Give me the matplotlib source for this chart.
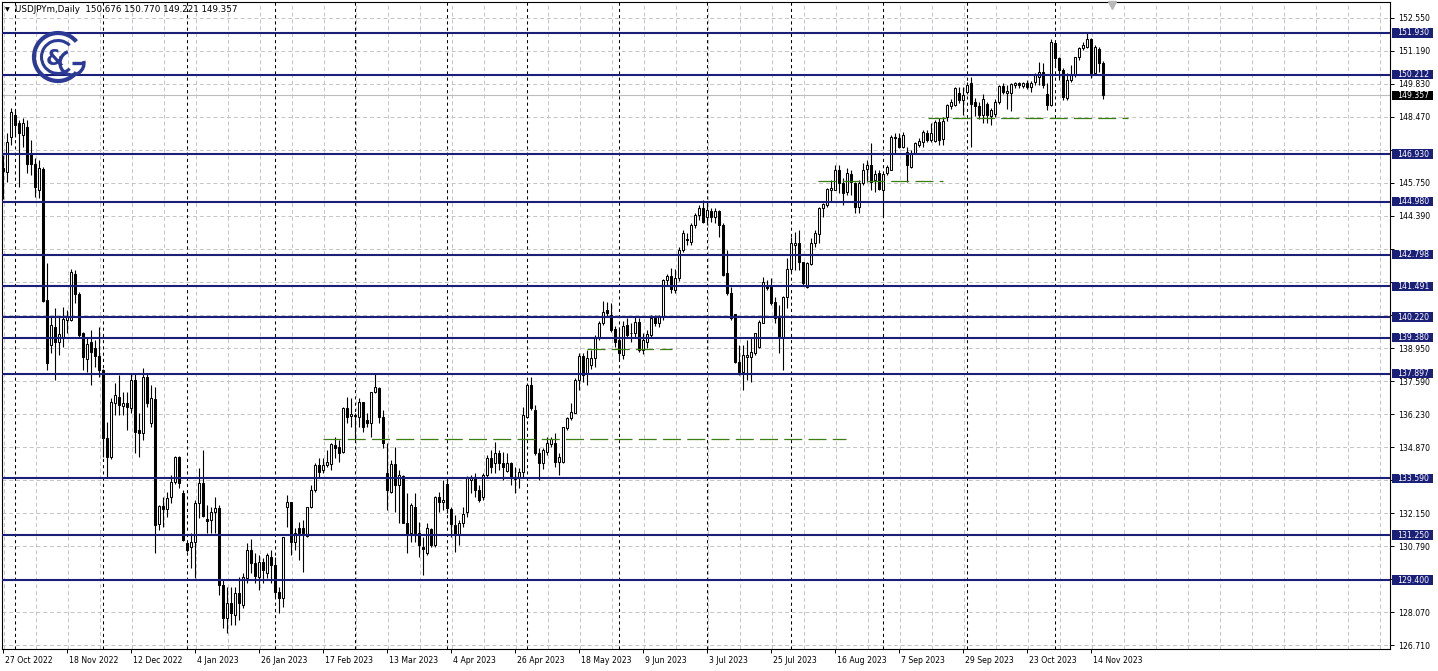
import numpy as np
import pandas as pd
import matplotlib
matplotlib.use("Agg")
import matplotlib.pyplot as plt
from matplotlib.patches import Arc, Rectangle
from matplotlib.transforms import ScaledTranslation, blended_transform_factory

# ---------------- data ----------------
symbol = "USDJPYm,Daily"
first_day = "2022-10-27"
last_day = "2023-11-17"
closed_days = ["2022-12-26"]

opens = [
    146.35, 146.21, 147.65, 148.55, 148.20, 147.72, 148.07, 146.97, 146.53, 145.46,
    146.32, 140.93, 139.07, 139.83, 139.21, 139.42, 140.10, 140.11, 142.00, 141.18,
    139.56, 138.49, 139.21, 138.94, 138.62, 138.05, 135.23, 134.48, 136.68, 136.95,
    136.58, 136.67, 136.47, 137.64, 135.58, 135.44, 137.77, 135.85, 136.84, 131.71,
    132.45, 132.31, 132.83, 133.45, 134.45, 132.99, 130.91, 130.77, 130.98, 132.56,
    133.38, 131.90, 131.87, 132.21, 132.35, 129.20, 127.82, 128.44, 127.96, 128.85,
    128.37, 129.47, 130.64, 130.12, 129.54, 130.16, 129.68, 130.36, 130.02, 128.92,
    128.65, 132.42, 132.60, 130.98, 131.53, 131.53, 131.21, 132.42, 133.11, 134.14,
    133.93, 134.14, 134.18, 134.96, 134.89, 134.69, 136.47, 136.15, 136.20, 136.13,
    136.74, 135.99, 135.85, 137.13, 137.29, 136.10, 133.79, 133.04, 134.18, 133.31,
    133.68, 131.76, 131.32, 132.42, 131.32, 130.77, 130.50, 131.49, 130.84, 132.83,
    132.60, 133.35, 132.31, 131.67, 131.25, 131.73, 132.20, 133.52, 133.65, 133.10,
    132.83, 133.72, 134.41, 134.20, 134.64, 134.23, 133.90, 134.20, 133.55, 133.59,
    133.86, 136.13, 137.43, 136.40, 134.62, 134.20, 134.69, 135.00, 135.03, 134.27,
    134.27, 135.65, 136.06, 136.26, 137.63, 138.64, 137.91, 138.25, 138.53, 139.35,
    139.97, 140.52, 140.31, 139.72, 139.28, 138.66, 139.90, 139.56, 139.56, 140.03,
    138.87, 139.21, 139.49, 140.17, 139.97, 140.24, 141.75, 141.92, 141.34, 141.82,
    142.99, 143.46, 143.33, 144.02, 144.43, 144.70, 144.36, 144.61, 144.36, 144.61,
    144.02, 142.03, 141.20, 140.35, 138.39, 137.98, 138.60, 138.60, 138.73, 139.01,
    139.99, 141.55, 141.55, 140.86, 140.24, 139.42, 141.07, 142.20, 143.20, 143.26,
    142.51, 141.48, 142.41, 143.29, 143.65, 144.70, 144.84, 145.46, 145.46, 146.28,
    145.76, 145.39, 146.12, 145.76, 144.74, 145.73, 146.31, 146.49, 145.85, 146.14,
    145.46, 146.14, 146.28, 147.65, 147.58, 147.21, 147.04, 146.42, 146.99, 147.31,
    147.45, 147.79, 147.52, 147.49, 148.27, 147.55, 148.48, 148.90, 148.96, 149.47,
    149.16, 149.51, 149.85, 149.10, 148.90, 148.55, 149.00, 148.50, 148.60, 149.10,
    149.74, 149.45, 149.44, 149.78, 149.88, 149.74, 149.85, 149.70, 149.90, 150.12,
    150.33, 149.41, 148.96, 151.50, 150.88, 150.40, 149.23, 149.99, 150.19, 150.92,
    151.29, 151.36, 151.66, 150.26, 151.25, 150.676]

highs = [
    146.90, 147.79, 148.82, 148.75, 148.34, 148.41, 148.34, 147.52, 146.76, 146.69,
    146.40, 142.47, 140.24, 140.59, 140.24, 140.65, 140.52, 142.20, 142.17, 141.25,
    139.60, 139.42, 139.69, 139.28, 139.83, 138.10, 135.92, 136.88, 137.50, 137.84,
    137.16, 137.16, 137.91, 137.91, 136.26, 138.11, 137.91, 137.43, 137.36, 132.49,
    132.83, 133.04, 133.72, 134.50, 134.50, 133.10, 130.98, 131.32, 132.69, 134.00,
    134.75, 132.49, 132.40, 132.83, 132.49, 129.40, 129.13, 129.13, 129.13, 129.54,
    129.68, 130.91, 131.08, 130.50, 130.43, 130.29, 130.50, 130.64, 130.36, 129.13,
    131.19, 132.90, 132.60, 131.53, 131.80, 131.87, 132.42, 133.31, 134.20, 134.41,
    134.41, 134.75, 135.03, 135.30, 135.17, 136.51, 136.95, 136.88, 136.26, 136.88,
    136.74, 136.26, 137.16, 137.91, 137.36, 136.40, 135.03, 134.34, 134.86, 133.93,
    133.72, 132.97, 132.56, 132.97, 131.80, 131.19, 131.73, 131.53, 132.86, 133.04,
    133.52, 133.59, 132.42, 132.07, 131.87, 132.42, 133.70, 133.72, 133.79, 133.31,
    133.79, 134.55, 134.75, 135.10, 134.75, 134.68, 134.62, 134.27, 134.07, 134.00,
    136.54, 137.50, 137.77, 136.60, 134.82, 134.82, 135.30, 135.30, 135.44, 134.62,
    135.71, 136.13, 136.68, 137.70, 138.73, 138.73, 138.87, 138.87, 139.50, 140.05,
    140.90, 140.86, 140.80, 139.86, 139.80, 140.05, 140.20, 140.00, 140.25, 140.20,
    139.55, 139.70, 140.30, 140.30, 140.30, 141.80, 142.00, 142.25, 142.20, 143.10,
    143.80, 143.70, 144.10, 144.50, 144.84, 145.05, 144.91, 144.70, 144.70, 144.63,
    144.09, 142.99, 141.48, 140.35, 139.08, 139.08, 139.28, 139.35, 139.56, 140.11,
    141.89, 141.75, 141.82, 141.07, 140.72, 141.09, 142.65, 143.54, 143.74, 143.81,
    142.51, 142.51, 143.47, 143.81, 144.77, 144.91, 145.53, 145.87, 146.49, 146.49,
    145.94, 146.35, 146.28, 145.80, 145.87, 146.55, 146.69, 147.38, 146.28, 146.28,
    146.14, 146.49, 147.72, 147.79, 147.79, 147.86, 147.24, 147.10, 147.45, 147.58,
    147.93, 147.93, 148.20, 148.34, 148.41, 148.45, 149.00, 149.20, 149.70, 149.70,
    149.70, 149.90, 150.12, 149.25, 149.10, 149.40, 149.10, 148.85, 149.20, 149.80,
    149.85, 149.80, 149.85, 149.90, 149.92, 149.92, 150.00, 149.95, 150.26, 150.74,
    150.67, 149.85, 151.66, 151.56, 150.95, 150.47, 150.26, 150.60, 150.95, 151.36,
    151.56, 151.91, 151.70, 151.43, 151.36, 150.770]

lows = [
    145.10, 145.80, 147.31, 147.65, 145.60, 147.24, 146.15, 146.08, 145.18, 145.11,
    140.85, 138.05, 138.73, 137.64, 138.66, 139.00, 139.56, 140.05, 140.79, 139.35,
    138.05, 137.98, 137.43, 138.18, 137.77, 134.48, 133.59, 134.40, 136.20, 136.20,
    136.20, 135.58, 136.26, 134.62, 134.48, 135.17, 136.54, 135.71, 130.50, 131.46,
    131.60, 132.01, 132.56, 133.35, 133.17, 131.00, 130.56, 129.88, 129.47, 131.94,
    132.01, 131.32, 131.32, 131.32, 128.78, 127.41, 127.21, 127.55, 127.55, 127.76,
    128.23, 129.26, 129.68, 129.26, 128.99, 129.26, 129.47, 129.26, 128.70, 128.03,
    128.30, 131.60, 130.43, 130.64, 130.22, 129.74, 131.19, 132.35, 133.04, 133.59,
    133.79, 134.07, 133.93, 134.41, 134.27, 134.62, 135.85, 135.71, 135.17, 135.71,
    135.51, 135.71, 135.30, 137.09, 135.85, 134.82, 132.28, 132.97, 132.21, 131.73,
    131.73, 130.50, 130.98, 130.98, 130.36, 129.61, 130.43, 130.77, 130.77, 132.21,
    132.28, 132.14, 131.18, 130.57, 130.84, 131.60, 132.00, 132.97, 132.83, 132.60,
    132.70, 133.65, 133.79, 133.79, 133.93, 133.52, 133.86, 133.31, 132.97, 133.17,
    133.65, 136.06, 136.40, 134.55, 133.52, 133.99, 134.55, 134.89, 134.07, 133.72,
    134.23, 135.58, 135.99, 136.26, 137.22, 137.57, 137.43, 138.10, 138.18, 139.30,
    139.90, 140.25, 139.60, 139.00, 138.50, 138.50, 139.35, 139.20, 139.40, 138.80,
    138.70, 138.95, 139.40, 139.85, 139.80, 140.10, 141.50, 141.20, 141.20, 141.70,
    142.90, 143.20, 143.20, 143.90, 144.22, 144.09, 144.02, 144.15, 144.08, 143.54,
    141.90, 141.15, 140.11, 138.32, 137.84, 137.22, 137.63, 137.57, 138.66, 138.94,
    139.97, 141.34, 140.72, 139.97, 138.73, 138.05, 140.59, 142.09, 142.16, 142.16,
    141.55, 141.41, 142.37, 143.12, 143.26, 144.36, 144.77, 144.98, 145.46, 145.32,
    144.84, 145.25, 145.25, 144.50, 144.50, 145.66, 145.80, 145.46, 145.39, 145.46,
    144.36, 146.08, 146.28, 146.97, 147.17, 147.17, 145.80, 146.35, 146.97, 147.24,
    147.24, 147.45, 147.45, 147.45, 147.31, 147.30, 148.30, 148.80, 148.90, 149.05,
    148.55, 149.40, 147.24, 148.50, 148.40, 148.20, 148.20, 148.15, 148.45, 149.00,
    149.40, 148.80, 148.70, 149.65, 149.65, 149.65, 149.60, 149.50, 149.80, 149.78,
    149.64, 148.75, 148.92, 150.54, 149.99, 149.16, 149.16, 149.92, 150.12, 150.81,
    151.22, 151.29, 150.06, 150.19, 150.33, 149.221]

closes = [
    146.25, 147.45, 148.68, 148.13, 147.79, 148.20, 146.53, 146.53, 145.60, 146.35,
    140.90, 138.35, 139.90, 139.21, 139.52, 140.13, 140.28, 142.07, 141.18, 139.49,
    138.60, 139.12, 138.80, 138.62, 138.05, 135.23, 134.48, 136.74, 137.02, 136.60,
    136.70, 136.54, 137.64, 135.51, 135.44, 137.77, 136.67, 136.88, 131.67, 132.45,
    132.31, 132.76, 133.45, 134.45, 133.38, 131.05, 130.64, 130.98, 132.59, 133.38,
    132.05, 131.84, 132.21, 132.35, 129.20, 127.82, 128.44, 128.03, 128.85, 128.44,
    129.54, 130.64, 130.12, 129.57, 130.16, 129.81, 130.43, 130.02, 128.92, 128.65,
    131.19, 132.60, 130.98, 131.32, 131.32, 131.32, 132.42, 133.11, 134.14, 133.86,
    134.14, 134.28, 135.00, 134.82, 134.64, 136.47, 136.13, 136.22, 136.15, 136.74,
    135.71, 135.88, 137.16, 137.36, 136.10, 135.03, 133.11, 134.18, 133.31, 133.72,
    131.76, 131.25, 132.49, 131.32, 130.84, 130.66, 131.53, 130.84, 132.83, 132.63,
    132.70, 132.35, 131.71, 131.25, 131.73, 132.12, 133.59, 133.65, 133.10, 132.70,
    133.72, 134.41, 134.07, 134.64, 134.20, 134.07, 134.20, 133.65, 133.65, 133.86,
    136.19, 137.43, 136.47, 134.62, 134.20, 134.75, 135.03, 135.19, 134.27, 134.48,
    135.71, 136.06, 136.33, 137.63, 138.64, 137.84, 138.53, 138.53, 139.42, 139.97,
    140.45, 140.38, 139.69, 139.21, 138.73, 139.86, 139.49, 139.55, 140.03, 138.87,
    139.28, 139.52, 140.17, 139.97, 140.24, 141.75, 141.92, 141.37, 141.82, 142.99,
    143.67, 143.40, 144.02, 144.43, 144.70, 144.15, 144.63, 144.36, 144.61, 144.02,
    141.96, 141.22, 140.17, 138.39, 137.98, 138.66, 138.66, 138.80, 139.56, 140.04,
    141.68, 141.41, 140.79, 140.17, 139.42, 141.07, 142.20, 143.26, 143.26, 142.51,
    141.62, 142.44, 143.29, 143.67, 144.70, 144.87, 145.49, 145.52, 146.28, 145.76,
    145.32, 146.17, 145.80, 144.77, 145.76, 146.28, 146.49, 145.80, 146.10, 145.50,
    146.12, 146.42, 147.65, 147.58, 147.21, 147.72, 146.49, 146.99, 147.38, 147.49,
    147.86, 147.52, 147.82, 148.27, 147.52, 148.30, 148.96, 149.10, 149.64, 149.16,
    149.35, 149.78, 149.00, 148.90, 148.55, 149.20, 148.55, 148.75, 149.10, 149.74,
    149.50, 149.55, 149.81, 149.85, 149.80, 149.85, 149.70, 149.88, 150.20, 150.33,
    149.78, 148.96, 151.56, 150.88, 150.40, 149.30, 149.99, 150.19, 150.92, 151.29,
    151.43, 151.66, 150.26, 151.36, 150.67, 149.357]

level_lines = [151.930, 150.212, 146.930, 144.980, 142.798, 141.491,
               140.220, 139.380, 137.897, 133.590, 131.250, 129.400]
bid_price = 149.357

# dashed green marks: price and bar range (bar numbers)
green_prices = [148.43, 145.83, 138.90, 135.19]
green_start_bar = [231.3, 203.8, 146.0, 80.0]
green_end_bar = [281.3, 235.0, 167.3, 210.8]

tick_first = 126.710
tick_step = 1.360
tick_count = 20
label_every = 16
grid_every = 8

# ---------------- styles ----------------
NAVY = "#1a1f78"
GREEN = "#3b7f12"
GRID = "#c4c4c4"
FS = 5.6
W, H = 1438, 671

o = np.array(opens); h = np.array(highs); l = np.array(lows); c = np.array(closes)
dates = pd.bdate_range(first_day, last_day)
dates = dates[~dates.isin(pd.to_datetime(closed_days))]
n = len(dates)
x = np.arange(n)

fig = plt.figure(figsize=(W / 100, H / 100), dpi=100)
fig.patch.set_facecolor("white")

# pixel layout of the plotting area
left_px, right_px, top_px, bottom_px = 2, 1390, 2, 649
ax = fig.add_axes([left_px / W, 1 - bottom_px / H, (right_px - left_px) / W,
                   (bottom_px - top_px) / H])
bar_px = 4.0
x0_px = 3.0
ax.set_xlim((left_px - x0_px) / bar_px, (right_px - x0_px) / bar_px)
p_per_px = 0.04117
p_at_0 = 153.28
ax.set_ylim(p_at_0 - p_per_px * bottom_px, p_at_0 - p_per_px * top_px)

for s in ax.spines.values():
    s.set_color("black")
    s.set_linewidth(0.8)

# grids
price_ticks = np.round(tick_first + tick_step * np.arange(tick_count), 3)
for p in price_ticks:
    ax.axhline(p, color=GRID, lw=0.7, ls=(0, (4, 3)), zorder=0)
xmax = ax.get_xlim()[1]
for k in range(0, int(xmax) + 1, grid_every):
    ax.axvline(k + 0.2, color=GRID, lw=0.7, ls=(0, (4, 3)), zorder=0)

# month separators
months = dates.to_period("M")
first_of_month = [i for i in range(1, n) if months[i] != months[i - 1]]
for i in first_of_month:
    ax.axvline(i, color="black", lw=0.75, ls=(0, (3, 3)), zorder=1)

# bid line
ax.axhline(bid_price, color="#bdbdbd", lw=0.8, zorder=1)

# candles
up = c >= o
ax.vlines(x, l, h, color="black", lw=0.8, zorder=3)
body_lo = np.minimum(o, c)
body_h = np.maximum(np.abs(c - o), 0.015)
ax.bar(x, body_h, bottom=body_lo, width=0.5,
       color=np.where(up, "white", "black"), edgecolor="black",
       linewidth=0.75, zorder=3.5)

# horizontal levels
for p in level_lines:
    ax.axhline(p, color=NAVY, lw=1.5, zorder=4)

# green dashed marks
for p, a, b in zip(green_prices, green_start_bar, green_end_bar):
    ax.plot([a, b], [p, p], color=GREEN, lw=0.9, ls=(0, (14.4, 5.0)), zorder=4)

# right price axis (labels hidden where a level box covers them)
boxed = list(level_lines) + [bid_price]
ax.yaxis.tick_right()
ax.set_yticks(price_ticks)
ax.set_yticklabels([f"{p:.3f}" if min(abs(p - b) for b in boxed) > 0.26 else ""
                    for p in price_ticks])
ax.tick_params(axis="y", length=3, width=0.7, pad=3, labelsize=FS,
               colors="black")

bt = blended_transform_factory(fig.transFigure, ax.transData)
box_h = 9.5 * p_per_px
for p, col in [(v, NAVY) for v in level_lines] + [(bid_price, "black")]:
    ax.add_patch(Rectangle((1392 / W, p - box_h / 2), 41 / W, box_h,
                           transform=bt, fc=col, ec="none", clip_on=False,
                           zorder=9))
    ax.text(1397 / W, p, f"{p:.3f}", transform=bt, color="white", fontsize=FS,
            va="center", ha="left", clip_on=False, zorder=10)

# time axis
tick_idx = list(range(0, n, label_every))
ax.set_xticks(tick_idx)
ax.set_xticklabels([f"{dates[i].day} {dates[i].strftime('%b %Y')}" for i in tick_idx])
ax.tick_params(axis="x", length=3, width=0.7, pad=2, labelsize=FS, colors="black")
offset = ScaledTranslation(2 / 100, 0, fig.dpi_scale_trans)
for lab in ax.get_xticklabels():
    lab.set_ha("left")
    lab.set_transform(lab.get_transform() + offset)

# chart shift marker
ax.plot([(1112 - x0_px) / bar_px], [p_at_0 - p_per_px * 5], marker="v",
        ms=6, color="#b8b8b8", mec="#b8b8b8", clip_on=False, zorder=6)

# header
fig.text(5 / W, 1 - 10 / H, "▼", fontsize=4.5, va="center", ha="left")
fig.text(15 / W, 1 - 10 / H,
         f"{symbol}  {o[-1]:.3f} {h[-1]:.3f} {l[-1]:.3f} {c[-1]:.3f}",
         fontsize=FS + 0.7, va="center", ha="left")

# logo overlay in pixel coordinates
lg = fig.add_axes([0, 0, 1, 1], zorder=20)
lg.set_xlim(0, W)
lg.set_ylim(H, 0)
lg.axis("off")
lg.patch.set_alpha(0)
LOGO = "#2c3a96"
lg.add_patch(Arc((58, 57), 48, 48, theta1=40, theta2=320, color=LOGO, lw=3.0))
lg.add_patch(Arc((58, 57), 33, 33, theta1=45, theta2=315, color=LOGO, lw=2.2))
lg.text(55, 59, "&", fontsize=15, fontweight="bold", color=LOGO,
        ha="center", va="center")
lg.add_patch(Arc((72, 63), 24, 24, theta1=-10, theta2=250, color=LOGO, lw=2.4))
lg.plot([72, 84], [63, 63], color=LOGO, lw=2.4, solid_capstyle="butt")

fig.savefig("out.png", dpi=100, facecolor="white")
